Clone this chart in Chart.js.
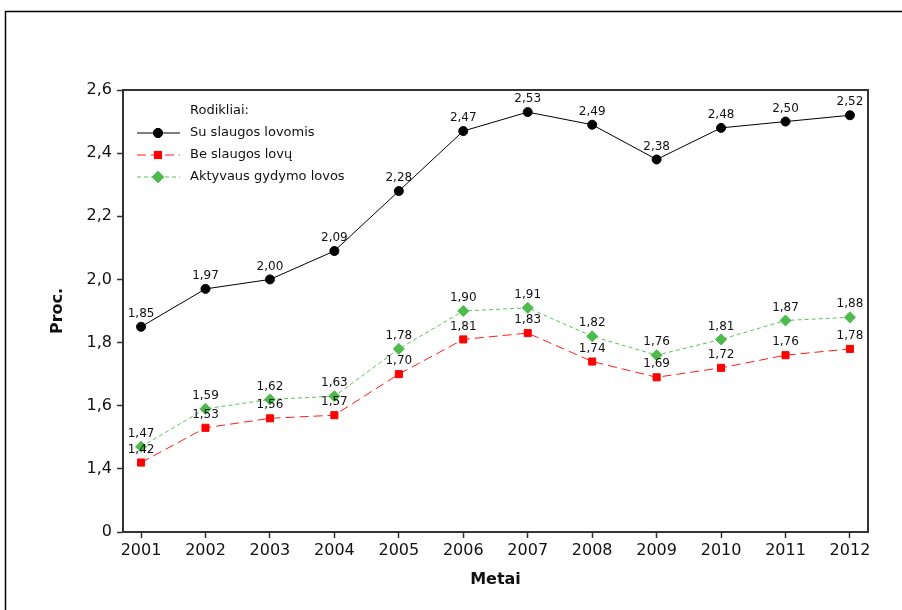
<!DOCTYPE html>
<html>
<head>
<meta charset="utf-8">
<script src="https://cdn.jsdelivr.net/npm/chart.js@4"></script>
<style>
  html, body { margin: 0; padding: 0; background: #fff; }
  #wrap { width: 902px; height: 610px; }
</style>
</head>
<body>
<div id="wrap"><canvas id="chart" width="902" height="610"></canvas></div>
<script>
// data
const years = [2001, 2002, 2003, 2004, 2005, 2006, 2007, 2008, 2009, 2010, 2011, 2012];
const suSlaugos = [1.85, 1.97, 2.00, 2.09, 2.28, 2.47, 2.53, 2.49, 2.38, 2.48, 2.50, 2.52];
const beSlaugos = [1.42, 1.53, 1.56, 1.57, 1.70, 1.81, 1.83, 1.74, 1.69, 1.72, 1.76, 1.78];
const aktyvaus = [1.47, 1.59, 1.62, 1.63, 1.78, 1.90, 1.91, 1.82, 1.76, 1.81, 1.87, 1.88];
const yTicks = [1.2, 1.4, 1.6, 1.8, 2.0, 2.2, 2.4, 2.6];
const yTickLabels = ['0', '1,4', '1,6', '1,8', '2,0', '2,2', '2,4', '2,6'];
const legendTitle = 'Rodikliai:';

const FONT = '"DejaVu Sans", Verdana, sans-serif';
const fmt = v => v.toFixed(2).replace('.', ',');
const pts = arr => arr.map((v, i) => ({ x: years[i], y: v }));

// outer frame + plot box
const framePlugin = {
    id: 'frame',
    beforeDraw(chart) {
        const ctx = chart.ctx;
        ctx.save();
        ctx.strokeStyle = '#000';
        ctx.lineWidth = 1.5;
        ctx.strokeRect(5.5, 11.5, 1000, 1000);
        ctx.restore();
    },
    afterDraw(chart) {
        const a = chart.chartArea;
        const ctx = chart.ctx;
        ctx.save();
        ctx.strokeStyle = '#333';
        ctx.lineWidth = 2;
        ctx.strokeRect(a.left, a.top, a.right - a.left, a.bottom - a.top);
        ctx.restore();
    }
};

// value labels above points
const labelPlugin = {
    id: 'valueLabels',
    afterDatasetsDraw(chart) {
        const ctx = chart.ctx;
        ctx.save();
        ctx.font = '12px ' + FONT;
        ctx.fillStyle = '#111';
        ctx.textAlign = 'center';
        ctx.textBaseline = 'bottom';
        chart.data.datasets.forEach((ds, i) => {
            chart.getDatasetMeta(i).data.forEach((pt, j) => {
                ctx.fillText(fmt(ds.data[j].y), pt.x, pt.y - 7);
            });
        });
        ctx.restore();
    }
};

// legend inside the plot
const legendPlugin = {
    id: 'innerLegend',
    afterDraw(chart) {
        const ctx = chart.ctx;
        ctx.save();
        ctx.font = '13px ' + FONT;
        ctx.fillStyle = '#111';
        ctx.textBaseline = 'middle';
        ctx.fillText(legendTitle, 190, 111);
        chart.data.datasets.forEach((ds, i) => {
            const y = 133 + i * 22;
            ctx.strokeStyle = ds.borderColor;
            ctx.lineWidth = 1;
            ctx.setLineDash(ds.borderDash || []);
            ctx.beginPath();
            ctx.moveTo(137, y);
            ctx.lineTo(180, y);
            ctx.stroke();
            ctx.setLineDash([]);
            Chart.helpers.drawPoint(ctx, {
                pointStyle: ds.pointStyle,
                radius: ds.pointRadius,
                rotation: 0,
                borderWidth: 1
            }, 158, y);
            ctx.fillStyle = ds.pointBackgroundColor;
            ctx.strokeStyle = ds.pointBackgroundColor;
            Chart.helpers.drawPoint(ctx, {
                pointStyle: ds.pointStyle,
                radius: ds.pointRadius,
                rotation: 0,
                borderWidth: 1
            }, 158, y);
            ctx.fillStyle = '#111';
            ctx.fillText(ds.label, 190, y);
        });
        ctx.restore();
    }
};

new Chart(document.getElementById('chart'), {
    type: 'line',
    data: {
        datasets: [
            {
                label: 'Su slaugos lovomis',
                data: pts(suSlaugos),
                borderColor: '#000',
                borderWidth: 1,
                pointStyle: 'circle',
                pointRadius: 4.5,
                pointBackgroundColor: '#000',
                pointBorderColor: '#000'
            },
            {
                label: 'Be slaugos lovų',
                data: pts(beSlaugos),
                borderColor: '#ff1a1a',
                borderWidth: 1,
                borderDash: [9, 5],
                pointStyle: 'rect',
                pointRadius: 5,
                pointBackgroundColor: '#ff0000',
                pointBorderColor: '#ff0000'
            },
            {
                label: 'Aktyvaus gydymo lovos',
                data: pts(aktyvaus),
                borderColor: '#5cc05c',
                borderWidth: 1,
                borderDash: [4, 3],
                pointStyle: 'rectRot',
                pointRadius: 5.5,
                pointBackgroundColor: '#4cbb4c',
                pointBorderColor: '#4cbb4c'
            }
        ]
    },
    options: {
        responsive: false,
        animation: false,
        layout: { padding: { top: 90, right: 34, left: 0, bottom: 0 } },
        plugins: {
            legend: { display: false },
            tooltip: { enabled: false }
        },
        scales: {
            x: {
                type: 'linear',
                min: 2000.72,
                max: 2012.28,
                afterBuildTicks: s => { s.ticks = years.map(v => ({ value: v })); },
                afterFit: s => { s.height = 78; },
                grid: { drawOnChartArea: false, tickLength: 6, color: '#333', tickWidth: 1.5 },
                border: { color: '#333', width: 2 },
                ticks: {
                    callback: v => String(v),
                    font: { family: FONT, size: 16 },
                    color: '#111',
                    padding: 3,
                    maxRotation: 0
                },
                title: {
                    display: true,
                    text: 'Metai',
                    font: { family: FONT, size: 16, weight: 'bold' },
                    color: '#111',
                    padding: { top: 0, bottom: 21 }
                }
            },
            y: {
                min: 1.2,
                max: 2.6,
                afterBuildTicks: s => { s.ticks = yTicks.map(v => ({ value: v })); },
                afterFit: s => { s.width = 123; },
                grid: { drawOnChartArea: false, tickLength: 6, color: '#333', tickWidth: 1.5 },
                border: { color: '#333', width: 2 },
                ticks: {
                    callback: (v, i) => yTickLabels[i],
                    font: { family: FONT, size: 16 },
                    color: '#111',
                    padding: 5
                },
                title: {
                    display: true,
                    text: 'Proc.',
                    font: { family: FONT, size: 16, weight: 'bold' },
                    color: '#111',
                    padding: { top: 48, bottom: 0 }
                }
            }
        }
    },
    plugins: [framePlugin, labelPlugin, legendPlugin]
});
</script>
</body>
</html>
